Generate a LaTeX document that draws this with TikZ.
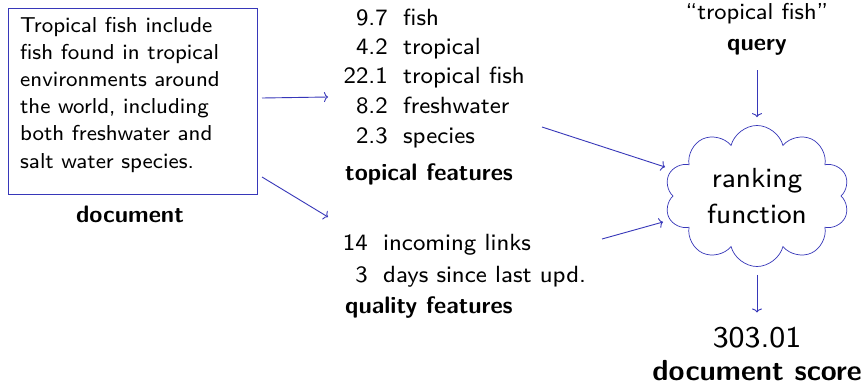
\documentclass[tikz,border=0pt]{standalone}
\usepackage{fontspec}
\setsansfont{lmsans8-regular.otf}[BoldFont=lmsans10-bold.otf]
\usetikzlibrary{shapes.symbols,arrows.meta}
\definecolor{lineblue}{RGB}{55,55,185}
\begin{document}
\begin{tikzpicture}[x=1pt,y=-1pt,
  every node/.style={inner sep=0pt,font=\sffamily\fontsize{23.4}{27.2}\selectfont},
  boxtext/.style={font=\sffamily\fontsize{21.6}{27.2}\selectfont},
  bold/.style={font=\sffamily\bfseries\fontsize{23.8}{27.2}\selectfont},
  big/.style={font=\sffamily\fontsize{27.6}{36}\selectfont},
  score/.style={font=\sffamily\fontsize{30}{36}\selectfont},
  bigbold/.style={font=\sffamily\bfseries\fontsize{29}{36}\selectfont},
  arr/.style={draw=lineblue,line width=0.9pt,-{To[length=4pt,width=10pt]}}]
\fill[white] (0,0) rectangle (863,386);
\useasboundingbox (0,0) rectangle (863,386);
% document
\node[draw=lineblue,line width=0.9pt,minimum width=249pt,minimum height=186pt,anchor=north west] (docbox) at (8,8) {};
\node[boxtext,anchor=base west,align=left] (doctext) at (20,168) {Tropical fish include\\fish found in tropical\\environments around\\the world, including\\both freshwater and\\salt water species.};
\node[bold,anchor=base] (doclabel) at (130,222) {document};
% topical features
\foreach \n/\w/\y [count=\i] in {9.7/fish/25,4.2/tropical/54,22.1/tropical fish/83,8.2/freshwater/113,2.3/species/143}{
  \node[anchor=base east] (tn\i) at (388,\y) {\n};
  \node[anchor=base west] (tw\i) at (403,\y) {\w};
}
\node[bold,anchor=base west] (topical) at (345,180) {topical features};
% quality features
\foreach \n/\w/\y [count=\i] in {14/incoming links/250,3/days since last upd./282}{
  \node[anchor=base east] (qn\i) at (368,\y) {\n};
  \node[anchor=base west] (qw\i) at (383,\y) {\w};
}
\node[bold,anchor=base west] (quality) at (345,313) {quality features};
% query
\node[font=\sffamily\fontsize{23}{27.2}\selectfont,anchor=base] (qtext) at (757,19) {“tropical fish”};
\node[bold,anchor=base] (query) at (757,50) {query};
% ranking function
\node[cloud,draw=lineblue,line width=0.7pt,cloud puffs=10,aspect=1.31,minimum width=185pt,minimum height=141pt,align=center,big] (rank) at (757,196) {ranking\\function};
% score
\node[score,anchor=base] (scoreval) at (757,347) {303.01};
\node[bigbold,anchor=base] (scorelabel) at (757,380) {document score};
% connectors
\coordinate (a1s) at (262,98);
\coordinate (a1e) at (328,97);
\coordinate (a2s) at (262,177);
\coordinate (a2e) at (328,217);
\coordinate (a3s) at (542,127);
\coordinate (a3e) at (665,167);
\coordinate (a4s) at (602,239);
\coordinate (a4e) at (663,222);
\draw[arr] (a1s) -- (a1e);
\draw[arr] (a2s) -- (a2e);
\draw[arr] (a3s) -- (a3e);
\draw[arr] (a4s) -- (a4e);
\draw[arr] ([yshift=-15pt]query.south) -- ([yshift=8pt]rank.north);
\draw[arr] ([yshift=-8pt]rank.south) -- ([yshift=14pt]scoreval.north);
\end{tikzpicture}
\end{document}
